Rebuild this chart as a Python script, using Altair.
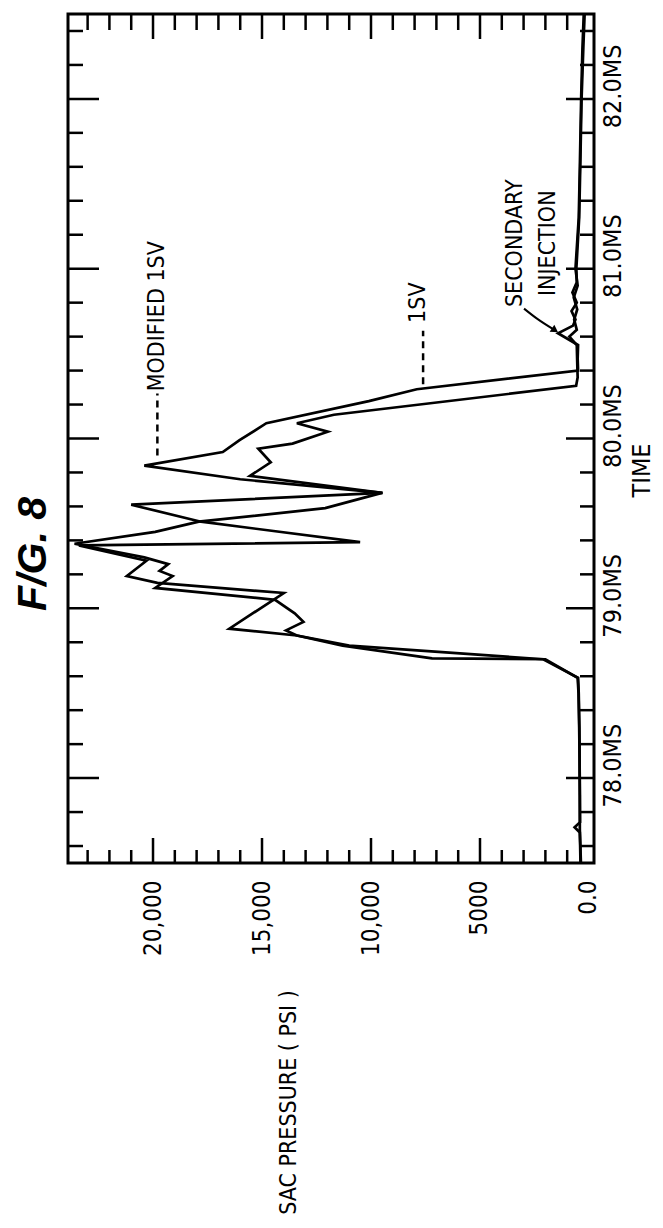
import altair as alt
import pandas as pd

# ---------------- data ----------------
series_names = ["MODIFIED 1SV", "1SV"]

# trace A (jagged trace)
time_a = [77.50, 77.62, 77.68, 77.71, 77.74, 77.90, 78.10, 78.30, 78.50, 78.59,
          78.70, 78.705, 78.78, 78.84, 78.88, 79.09, 79.15, 79.19, 79.28, 79.37,
          79.39, 79.51, 79.61, 79.68, 79.76, 79.84, 79.92, 79.99, 80.09, 80.22,
          80.29, 80.40, 80.47, 80.55, 80.62, 80.665, 80.70, 80.75, 80.80, 80.86,
          80.92, 81.00, 81.30, 81.60, 82.00, 82.30, 82.50]
press_a = [370, 400, 420, 660, 410, 420, 430, 450, 480, 520,
           2000, 7200, 11300, 13400, 16500, 14000, 19800, 21200, 20300, 23400,
           10500, 17800, 21000, 9460, 16000, 20400, 16800, 16030, 14800, 10100,
           7900, 500, 520, 500, 1420, 730, 620, 800, 560, 760,
           560, 580, 450, 400, 340, 260, 200]

# trace B
time_b = [77.50, 77.70, 77.90, 78.10, 78.30, 78.50, 78.59, 78.70, 78.78, 78.84,
          78.87, 78.92, 78.97, 79.05, 79.12, 79.19, 79.22, 79.26, 79.30, 79.38,
          79.45, 79.51, 79.59, 79.68, 79.78, 79.86, 79.94, 79.97, 80.04, 80.09,
          80.14, 80.31, 80.36, 80.45, 80.55, 80.60, 80.64, 80.70, 80.76, 80.83,
          80.90, 81.00, 81.30, 81.60, 82.00, 82.30, 82.50]
press_b = [390, 420, 420, 430, 440, 470, 500, 2100, 11000, 13400,
           13900, 13100, 13500, 14400, 19900, 19100, 19700, 19300, 20400, 23600,
           19900, 17900, 12100, 9500, 15550, 14600, 15170, 13600, 11980, 13400,
           11700, 590, 520, 540, 560, 900, 560, 680, 540, 700,
           520, 620, 470, 420, 360, 300, 240]

time_label_values = [78, 79, 80, 81, 82]
press_label_values = [0, 5000, 10000, 15000, 20000]

time_minor = [77.6, 77.8, 78.2, 78.4, 78.6, 78.8, 79.2, 79.4, 79.6, 79.8,
              80.2, 80.4, 80.6, 80.8, 81.2, 81.4, 81.6, 81.8, 82.2, 82.4]
time_major = [78, 79, 80, 81, 82]
press_minor = [1000, 2000, 3000, 4000, 6000, 7000, 8000, 9000, 11000, 12000,
               13000, 14000, 16000, 17000, 18000, 19000, 21000, 22000, 23000]
press_major = [5000, 10000, 15000, 20000]

T_DOMAIN = [77.5, 82.5]
P_DOMAIN = [-230, 23900]

# annotations
note_text = ["MODIFIED 1SV", "1SV", "SECONDARY", "INJECTION"]
note_time = [80.72, 80.80, 81.15, 81.15]
note_press = [19820, 7840, 3390, 1880]

leader_press = [19800, 7610]
leader_t1 = [79.90, 80.32]
leader_t2 = [80.265, 80.635]

arrow_time = [80.765, 80.706, 80.641]
arrow_press = [2980, 2385, 1605]

fig_text = ["F/G. 8"]
fig_time = [79.32]
fig_press = [25460]

# ---------------- tables ----------------
rows = []
for name, ts, ps in [(series_names[0], time_a, press_a), (series_names[1], time_b, press_b)]:
    for i, (t, p) in enumerate(zip(ts, ps)):
        rows.append({"series": name, "i": i, "t": t, "p": p})
df_lines = pd.DataFrame(rows)

SHORT_V, LONG_V = 13, 25   # ticks on top / bottom
SHORT_H, LONG_H = 14, 28   # ticks on left / right


def tick_df(vals, fixed, length, is_time):
    out = []
    for v in vals:
        if is_time:
            out.append({"t": v, "p": fixed, "len": 2 * length})
        else:
            out.append({"t": fixed, "p": v, "len": 2 * length})
    return pd.DataFrame(out)


df_ticks_lr = pd.concat([
    tick_df(time_minor, P_DOMAIN[0], SHORT_H, True),
    tick_df(time_major, P_DOMAIN[0], LONG_H, True),
    tick_df(time_minor, P_DOMAIN[1], SHORT_H + 1, True),
    tick_df(time_major, P_DOMAIN[1], LONG_H + 3, True),
])
df_ticks_tb = pd.concat([
    tick_df(press_minor, T_DOMAIN[0], SHORT_V, False),
    tick_df(press_major, T_DOMAIN[0], LONG_V, False),
    tick_df(press_minor, T_DOMAIN[1], SHORT_V + 3, False),
    tick_df(press_major, T_DOMAIN[1], LONG_V, False),
])

df_notes = pd.DataFrame({"t": note_time, "p": note_press, "label": note_text})
df_leaders = pd.DataFrame({"p": leader_press, "t": leader_t1, "t2": leader_t2})
df_arrow = pd.DataFrame({"t": arrow_time, "p": arrow_press, "i": list(range(len(arrow_time)))})
df_head = df_arrow.tail(1)
df_fig = pd.DataFrame({"t": fig_time, "p": fig_press, "label": fig_text})

# ---------------- chart ----------------
FONT = "Liberation Sans Narrow, Arial Narrow, DejaVu Sans Condensed, sans-serif"

x_scale = alt.Scale(domain=P_DOMAIN, reverse=True, nice=False, zero=False)
y_scale = alt.Scale(domain=T_DOMAIN, nice=False, zero=False)

x_axis = alt.Axis(
    orient="bottom", values=press_label_values,
    labelExpr="datum.value == 0 ? '0.0' : (datum.value < 10000 ? format(datum.value, 'd') : format(datum.value, ','))",
    labelAngle=270, labelAlign="right", labelBaseline="middle", labelPadding=17,
    labelFont=FONT, labelFontSize=24, labelColor="black",
    labelFlush=False, labelOverlap=False,
    ticks=False, domain=False, grid=False,
    title="SAC PRESSURE ( PSI )", titleFont=FONT, titleFontSize=23,
    titleFontWeight="normal", titleColor="black", titleAngle=270,
    titleAlign="center", titleBaseline="middle", titleX=220, titleY=239,
)
y_axis = alt.Axis(
    orient="right", values=time_label_values,
    labelExpr="format(datum.value, '.1f') + 'MS'",
    labelAngle=270, labelAlign="center", labelBaseline="top", labelPadding=6,
    labelOffset=-13, labelFont=FONT, labelFontSize=25, labelColor="black",
    labelFlush=False, labelOverlap=False,
    ticks=False, domain=False, grid=False,
    title="TIME", titleFont=FONT, titleFontSize=25, titleFontWeight="normal",
    titleColor="black", titleAngle=270, titleAlign="center",
    titleBaseline="middle", titleX=47, titleY=456,
)

X = alt.X("p:Q", scale=x_scale, axis=x_axis)
Y = alt.Y("t:Q", scale=y_scale, axis=y_axis)

lines = alt.Chart(df_lines).mark_line(color="black", strokeWidth=2.7).encode(
    x=X, y=Y, detail="series:N", order="i:Q",
)

ticks_lr = alt.Chart(df_ticks_lr).mark_tick(
    orient="horizontal", color="black", thickness=2.5, clip=True, opacity=1
).encode(x=X, y=Y, size=alt.Size("len:Q", scale=None))

ticks_tb = alt.Chart(df_ticks_tb).mark_tick(
    orient="vertical", color="black", thickness=2.5, clip=True, opacity=1
).encode(x=X, y=Y, size=alt.Size("len:Q", scale=None))

notes = alt.Chart(df_notes).mark_text(
    angle=270, font=FONT, fontSize=23, color="black", align="center", baseline="middle"
).encode(x=X, y=Y, text="label:N")

leaders = alt.Chart(df_leaders).mark_rule(
    color="black", strokeWidth=2.5, strokeDash=[7, 5]
).encode(x=X, y=Y, y2="t2:Q")

arrow = alt.Chart(df_arrow).mark_line(
    color="black", strokeWidth=2, interpolate="monotone"
).encode(x=X, y=Y, order="i:Q")

head = alt.Chart(df_head).mark_point(
    shape="triangle", filled=True, size=70, angle=124, color="black", opacity=1
).encode(x=X, y=Y)

fig = alt.Chart(df_fig).mark_text(
    angle=270, font="Liberation Sans, Arial, sans-serif", fontStyle="italic",
    fontWeight="bold", fontSize=41, color="black", align="center", baseline="middle"
).encode(x=X, y=Y, text="label:N")

chart = alt.layer(lines, ticks_lr, ticks_tb, leaders, notes, arrow, head, fig).properties(
    width=526, height=849,
    padding={"left": 60, "top": 6, "right": 61, "bottom": 355},
    autosize=alt.AutoSizeParams(type="none"),
    background="white",
).configure_view(stroke="black", strokeWidth=3)

chart.save("out.html", embed_options={"renderer": "svg", "actions": False})
